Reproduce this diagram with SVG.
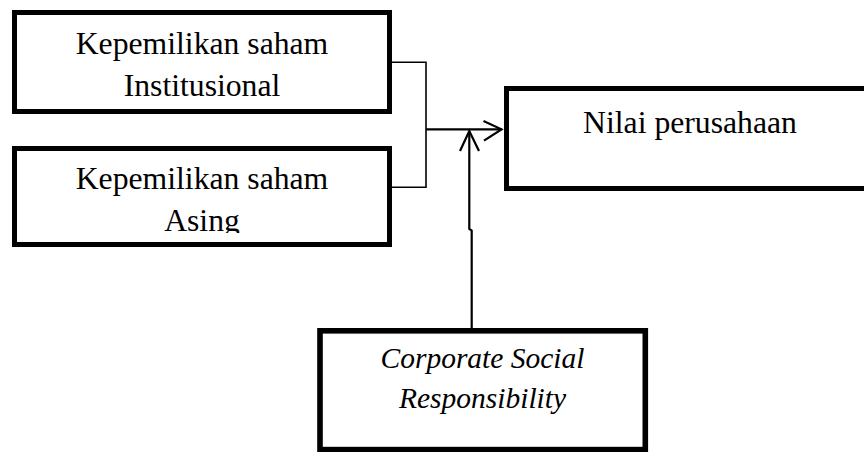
<svg xmlns="http://www.w3.org/2000/svg" width="864" height="452" viewBox="0 0 864 452">
<style>
.box{fill:#fff;stroke:#000;stroke-width:5}
.t{font-family:"Liberation Serif","Times New Roman",serif;font-size:31.7px;fill:#000;text-anchor:middle}
.ti{font-style:italic;font-size:29.5px}
.c{fill:none;stroke:#000;stroke-width:1.6}
.c2{fill:none;stroke:#000;stroke-width:2.2}
</style>
<defs>
<clipPath id="clipAsing"><rect x="14" y="150" width="376" height="83"/></clipPath>
</defs>
<rect width="864" height="452" fill="#fff"/>
<g id="node-institusional">
<rect class="box" x="14.5" y="12.5" width="375" height="99"/>
<text class="t" x="202" y="54">Kepemilikan saham</text>
<text class="t" x="202" y="96">Institusional</text>
</g>
<g id="node-asing">
<rect class="box" x="14.5" y="148.5" width="375" height="96"/>
<g clip-path="url(#clipAsing)">
<text class="t" x="202" y="189">Kepemilikan saham</text>
<text class="t" x="202" y="231">Asing</text>
</g>
</g>
<g id="node-nilai">
<rect class="box" x="506.5" y="88.5" width="400" height="100"/>
<text class="t" x="690" y="133">Nilai perusahaan</text>
</g>
<g id="node-csr">
<rect class="box" x="320" y="330.8" width="325.3" height="118.8" style="stroke-width:5.6"/>
<text class="t ti" x="482.5" y="368">Corporate Social</text>
<text class="t ti" x="482.5" y="408">Responsibility</text>
</g>
<g id="connectors">
<path class="c" d="M392,62.3 H426 V187.3 H392"/>
<path class="c2" d="M426,129.3 H501.5"/>
<path class="c2" d="M483.5,121 L501.5,129.3 L484,140.7"/>
<path class="c2" d="M469.3,131 V229 L471.7,230.5 V328"/>
<path class="c2" d="M460,151 L469.3,131 L479,151"/>
</g>
</svg>
